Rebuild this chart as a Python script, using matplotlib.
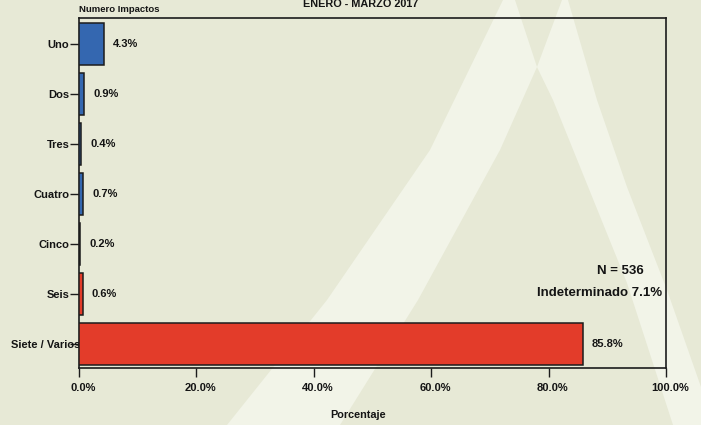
import matplotlib
matplotlib.use("Agg")
import matplotlib.pyplot as plt
from matplotlib.patches import Polygon
import matplotlib.transforms as mtransforms

# ---- data ----
categories = ["Uno", "Dos", "Tres", "Cuatro", "Cinco", "Seis", "Siete / Varios"]
values = [4.3, 0.9, 0.4, 0.7, 0.2, 0.6, 85.8]
bar_groups = ["blue", "blue", "blue", "blue", "red", "red", "red"]
x_ticks = [0, 20, 40, 60, 80, 100]
title_text = "ENERO - MARZO 2017"
subtitle_text = "Numero Impactos"
xlabel_text = "Porcentaje"
n_text = "N = 536"
indet_text = "Indeterminado 7.1%"

# ---- style ----
BG = "#e7e9d6"
LIGHT = "#f2f4e8"
BLUE = "#3467b0"
RED = "#e33c2a"
EDGE = "#1c1c1c"
TXT = "#141414"
W, H = 701, 425

plt.rcParams["font.family"] = ["Liberation Sans", "DejaVu Sans"]
plt.rcParams["font.weight"] = "bold"

fig = plt.figure(figsize=(W / 100, H / 100), dpi=100, facecolor=BG)

def px(pts):
    return [(x / W, 1 - y / H) for x, y in pts]

# watermark bands (decorative background)
left_band = [(503, 0), (515, 0), (537, 67), (500, 150), (418, 300), (340, 425),
             (227, 425), (327, 300), (430, 150)]
right_band = [(562, 0), (568, 0), (597, 100), (627, 187), (667, 290), (701, 387),
              (701, 425), (673, 425), (627, 283), (553, 100), (537, 67)]
for poly in (left_band, right_band):
    fig.add_artist(Polygon(px(poly), closed=True, transform=fig.transFigure,
                           facecolor=LIGHT, edgecolor="none", zorder=-5))

ax = fig.add_axes([79 / W, 1 - 368 / H, (666 - 79) / W, (368 - 18) / H])
ax.set_facecolor("none")

colors = [BLUE if g == "blue" else RED for g in bar_groups]
ypos = list(range(len(categories)))
ax.barh(ypos, values, height=0.83, color=colors, edgecolor=EDGE, linewidth=1.1, zorder=3)

ax.set_xlim(0, 100)
ax.set_ylim(6.48, -0.52)

# value labels
offset = mtransforms.ScaledTranslation(9 / 100, 0, fig.dpi_scale_trans)
for y, v in zip(ypos, values):
    ax.text(v, y, f"{v:.1f}%", transform=ax.transData + offset,
            ha="left", va="center", fontsize=8, fontweight="bold", color=TXT)

ax.set_yticks(ypos)
ax.set_yticklabels(categories, fontsize=8, fontweight="bold", color=TXT)
ax.set_xticks(x_ticks)
ax.set_xticklabels([f"{t:.1f}%" for t in x_ticks], fontsize=8, fontweight="bold", color=TXT)

ax.tick_params(axis="y", length=6.5, width=1.0, pad=0.5, color=EDGE)
ax.tick_params(axis="x", length=6.5, width=1.0, pad=4.5, color=EDGE)

# shift x tick labels slightly right as in reference
xshift = mtransforms.ScaledTranslation(4 / 100, 0, fig.dpi_scale_trans)
for lab in ax.get_xticklabels():
    lab.set_transform(lab.get_transform() + xshift)
# last y label overlaps the axis in reference
yshift = mtransforms.ScaledTranslation(11 / 100, 0, fig.dpi_scale_trans)
last = ax.get_yticklabels()[-1]
last.set_transform(last.get_transform() + yshift)

for s in ax.spines.values():
    s.set_linewidth(1.2)
    s.set_color(EDGE)

# annotations
ax.text(92.3, 4.54, n_text, ha="center", va="center", fontsize=9.5,
        fontweight="bold", color=TXT)
ax.text(88.7, 4.98, indet_text, ha="center", va="center", fontsize=9.5,
        fontweight="bold", color=TXT)

# titles
fig.text(361 / W, 1 - 7 / H, title_text, ha="center", va="baseline",
         fontsize=7.8, fontweight="bold", color=TXT)
fig.text(79 / W, 1 - 12 / H, subtitle_text, ha="left", va="baseline",
         fontsize=6.8, fontweight="bold", color=TXT)
fig.text(358.5 / W, 1 - 415 / H, xlabel_text, ha="center", va="center",
         fontsize=7.8, fontweight="bold", color=TXT)

fig.savefig("out.png", dpi=100, facecolor=BG)
